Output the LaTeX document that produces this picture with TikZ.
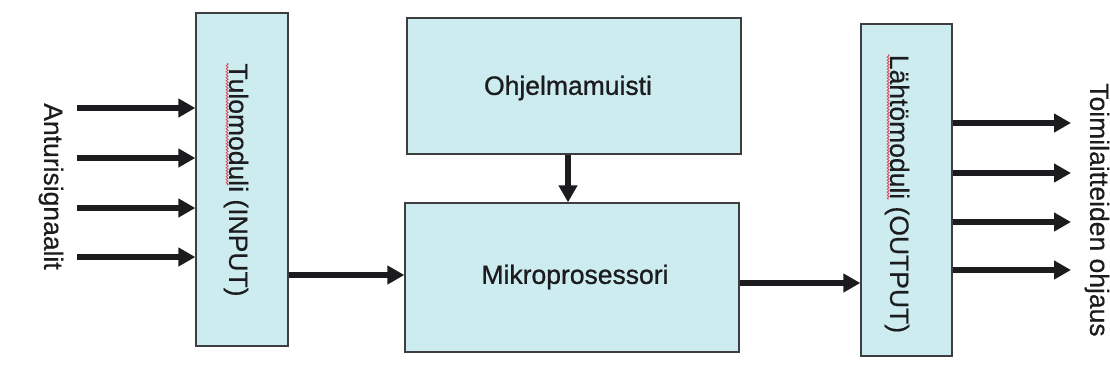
\documentclass[tikz,border=0pt]{standalone}
\usepackage{fontspec}
\setmainfont{Liberation Sans}
\newfontfamily\heavyfont[FakeBold=0.9]{Liberation Sans}
\newfontfamily\midfont[FakeBold=0.4]{Liberation Sans}
\usetikzlibrary{arrows.meta,decorations.pathmorphing}
\definecolor{boxfill}{RGB}{205,236,239}
\definecolor{ink}{RGB}{28,28,30}
\definecolor{spellred}{RGB}{225,70,85}
\begin{document}
\begin{tikzpicture}[x=1pt,y=-1pt,
  module/.style={draw=ink!85, line width=1.3pt, fill=boxfill, inner sep=0pt},
  sig/.style={draw=ink, line width=6pt, -{Triangle[length=17pt,width=18pt]}},
  lbl/.style={font=\heavyfont\fontsize{26.5}{30}\selectfont, text=ink, inner sep=0pt},
  vlbl/.style={font=\midfont\fontsize{26.5}{30}\selectfont, text=ink, inner sep=0pt, rotate=-90},
  spell/.style={draw=spellred, line width=0.8pt,
    decorate, decoration={snake, amplitude=1pt, segment length=3pt}},
]
\useasboundingbox (0,0) rectangle (1110,376);
\fill[white] (0,0) rectangle (1110,376);

% modules
\node[module, minimum width=92pt, minimum height=333pt] (inp) at (242,179.5) {};
\node[module, minimum width=91pt, minimum height=332pt] (outp) at (906.5,190) {};
\node[module, minimum width=334pt, minimum height=136pt] (ohj) at (574,86) {};
\node[module, minimum width=334pt, minimum height=149pt] (mikro) at (572,277.5) {};

% labels
\node[lbl] (ohjtxt) at (568,88) {Ohjelmamuisti};
\node[lbl] (mikrotxt) at (575,277) {Mikroprosessori};
\node[vlbl] (inptxt) at (236,180) {Tulomoduli (INPUT)};
\node[vlbl] (outptxt) at (897,194) {Lähtömoduli (OUTPUT)};
\node[vlbl] (anturi) at (51,186.5) {Anturisignaalit};
\node[vlbl] (toimi) at (1097,210) {Toimilaitteiden ohjaus};

% spelling marks under the module names
\draw[spell] ([xshift=-2pt]inptxt.base west) -- ++(0,122);
\draw[spell] ([xshift=-2pt]outptxt.base west) -- ++(0,145);

% sensor inputs
\foreach \i/\yy in {1/108,2/158,3/208,4/257} {
  \coordinate (in\i) at (77,\yy);
  \draw[sig] (in\i) -- (in\i -| inp.west);
}

% actuator outputs
\foreach \i/\yy in {1/123,2/173,3/222,4/270} {
  \coordinate (out\i) at (1071,\yy);
  \draw[sig] (out\i -| outp.east) -- (out\i);
}

% internal data flow
\coordinate (memx) at (568,0);
\draw[sig] (ohj.south -| memx) -- (mikro.north -| memx);
\coordinate (busin) at (0,275);
\draw[sig] (inp.east |- busin) -- (mikro.west |- busin);
\coordinate (busout) at (0,283);
\draw[sig] (mikro.east |- busout) -- (outp.west |- busout);
\end{tikzpicture}
\end{document}
